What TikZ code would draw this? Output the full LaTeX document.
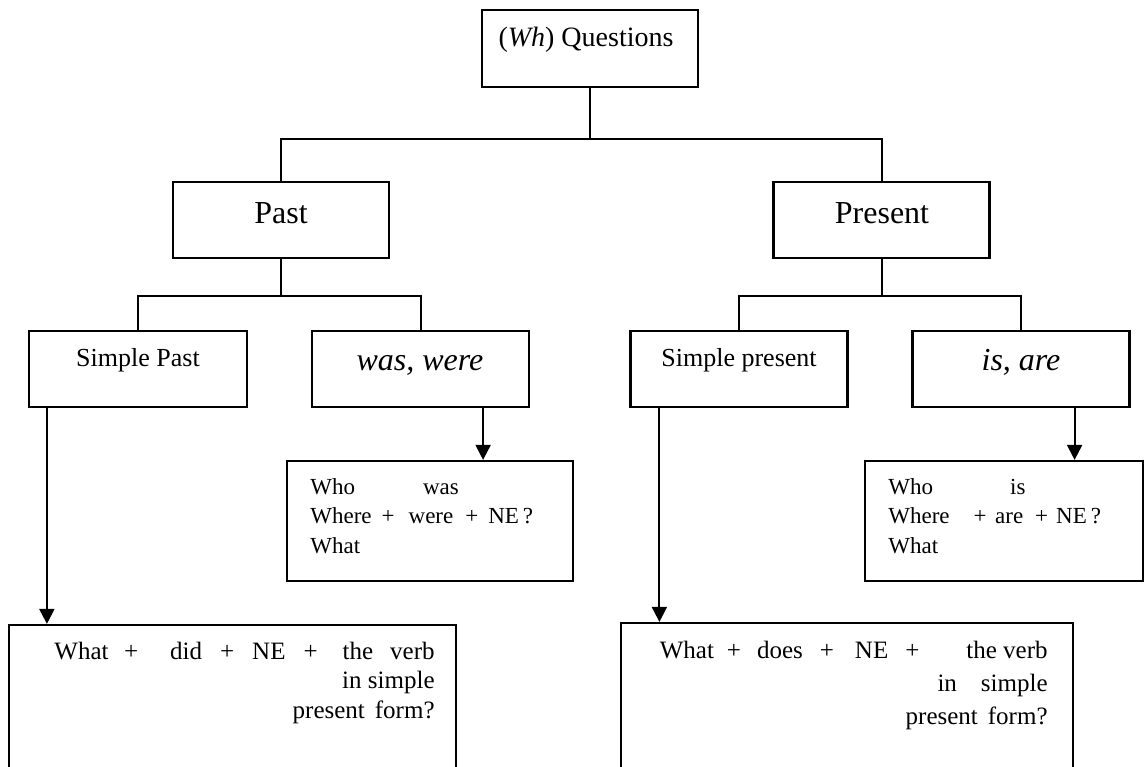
\documentclass[tikz,border=0pt]{standalone}
\usepackage{fontspec}
\setmainfont{Liberation Serif}
\usetikzlibrary{arrows.meta}

\begin{document}
\begin{tikzpicture}[x=0.5pt, y=-0.5pt, >={Triangle[width=7.5pt,length=7.5pt]},
	box/.style={draw, line width=1.1pt, inner sep=0pt},
	link/.style={line width=1pt},
	every node/.style={inner sep=0pt}]

	% Cadre de la page
	\useasboundingbox[fill=white] (0,0) rectangle (1145,766);
	\clip (0,0) rectangle (1145,766);

	% Boites
	\node[box, minimum width=108pt, minimum height=38.5pt] (wh) at (590,48.5) {};
	\node[box, minimum width=108pt, minimum height=38pt] (past) at (281,220) {};
	\node[box, minimum width=108pt, minimum height=38pt] (present) at (881.5,220) {};
	\node[box, minimum width=109pt, minimum height=38pt] (spast) at (138,369) {};
	\node[box, minimum width=108.5pt, minimum height=38pt] (waswere) at (420.5,369) {};
	\node[box, minimum width=108.5pt, minimum height=38pt] (spres) at (739,369) {};
	\node[box, minimum width=108.5pt, minimum height=38pt] (isare) at (1021,369) {};
	\node[box, minimum width=143pt, minimum height=60pt] (whowas) at (430,521) {};
	\node[box, minimum width=139pt, minimum height=60pt] (whois) at (1004,521) {};
	\node[box, minimum width=223.5pt, minimum height=100pt] (did) at (232.5,725) {};
	\node[box, minimum width=226pt, minimum height=100pt] (does) at (847,723) {};

	% Textes
	\node[anchor=base, font=\fontsize{14}{17}\selectfont] (whtxt) at (586,46) {(\textit{Wh}) Questions};
	\node[anchor=base, font=\fontsize{16}{19}\selectfont] (pasttxt) at (281,223) {Past};
	\node[anchor=base, font=\fontsize{16}{19}\selectfont] (presenttxt) at (882,223) {Present};
	\node[anchor=base, font=\fontsize{13}{16}\selectfont] (spasttxt) at (138,366) {Simple Past};
	\node[anchor=base, font=\fontsize{16}{19}\selectfont\itshape] (wasweretxt) at (420,370) {was, were};
	\node[anchor=base, font=\fontsize{13}{16}\selectfont] (sprestxt) at (739,366) {Simple present};
	\node[anchor=base, font=\fontsize{16}{19}\selectfont\itshape] (isaretxt) at (1021,370) {is, are};

	\node[anchor=base west, font=\fontsize{11.5}{14.75}\selectfont] (whowastxt) at (310,494)
		{\begin{tabular}[t]{@{}l@{}}Who\hspace{34pt}was\\
		Where\hspace{5pt}+\hspace{7pt}were\hspace{6pt}+\hspace{5pt}NE\hspace{2pt}?\\
		What\end{tabular}};
	\node[anchor=base west, font=\fontsize{11.5}{14.75}\selectfont] (whoistxt) at (888,494)
		{\begin{tabular}[t]{@{}l@{}}Who\hspace{38.5pt}is\\
		Where\hspace{12pt}+\hspace{4.25pt}are\hspace{6pt}+\hspace{4pt}NE\hspace{2pt}?\\
		What\end{tabular}};

	\node[anchor=base east, font=\fontsize{12.5}{14.75}\selectfont] (didtxt) at (435,659)
		{\begin{tabular}[t]{@{}r@{}}What\hspace{7.75pt}+\hspace{16pt}did\hspace{9pt}+\hspace{9pt}NE\hspace{9pt}+\hspace{12.5pt}the\hspace{8.5pt}verb\\
		in simple\\
		present\hspace{5pt}form?\end{tabular}};
	\node[anchor=base east, font=\fontsize{12.5}{16.5}\selectfont] (doestxt) at (1048,658)
		{\begin{tabular}[t]{@{}r@{}}What\hspace{6.5pt}+\hspace{8pt}does\hspace{8.5pt}+\hspace{10.5pt}NE\hspace{8.5pt}+\hspace{23.5pt}the verb\\
		in\hspace{12pt}simple\\
		present\hspace{5pt}form?\end{tabular}};

	% Liaisons
	\coordinate (j0) at (590,139);
	\coordinate (j1) at (281,296);
	\coordinate (j2) at (881.5,296);
	\draw[link] (wh.south) -- (j0);
	\draw[link] (j0) -| (past.north);
	\draw[link] (j0) -| (present.north);
	\draw[link] (past.south) -- (j1);
	\draw[link] (j1) -| (spast.north);
	\draw[link] (j1) -| (waswere.north);
	\draw[link] (present.south) -- (j2);
	\draw[link] (j2) -| (spres.north);
	\draw[link] (j2) -| (isare.north);

	% Fleches
	\coordinate (a1) at ([xshift=9.5pt]spast.south west);
	\coordinate (a2) at ([xshift=-23.5pt]waswere.south east);
	\coordinate (a3) at ([xshift=15pt]spres.south west);
	\coordinate (a4) at ([xshift=-28pt]isare.south east);
	\draw[link, ->] (a1) -- (a1 |- did.north);
	\draw[link, ->] (a2) -- (a2 |- whowas.north);
	\draw[link, ->] (a3) -- (a3 |- does.north);
	\draw[link, ->] (a4) -- (a4 |- whois.north);
\end{tikzpicture}
\end{document}
